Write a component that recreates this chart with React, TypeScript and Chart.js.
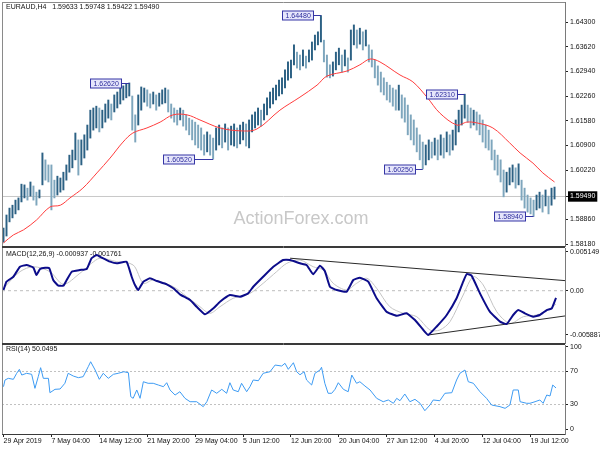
import { useEffect, useRef } from "react";
import { Chart, registerables } from "chart.js";

Chart.register(...registerables);

const FONT = "'Liberation Sans', Arial, sans-serif";

// ---------------- texts ----------------
const symbolTitle = "EURAUD,H4   1.59633 1.59748 1.59422 1.59490";
const macdTitle = "MACD(12,26,9) -0.000937 -0.001761";
const rsiTitle = "RSI(14) 50.0495";
const watermarkText = "ActionForex.com";

// ---------------- price bars (high / low) ----------------
const barHigh = [
  1.5862, 1.5898, 1.5917, 1.5925, 1.5939, 1.5945, 1.5983, 1.5981, 1.5972, 1.5989,
  1.5978, 1.5961, 1.5967, 1.6069, 1.6050, 1.6036, 1.6036, 1.5994, 1.6005, 1.6000,
  1.6016, 1.6036, 1.6063, 1.6077, 1.6124, 1.6105, 1.6105, 1.6119, 1.6146, 1.6187,
  1.6193, 1.6198, 1.6193, 1.6187, 1.6204, 1.6215, 1.6204, 1.6229, 1.6237, 1.6248,
  1.6254, 1.6259, 1.6262, 1.6226, 1.6174, 1.6229, 1.6251, 1.6248, 1.6243, 1.6232,
  1.6237, 1.6229, 1.6234, 1.6243, 1.6248, 1.6243, 1.6204, 1.6193, 1.6187, 1.6193,
  1.6187, 1.6174, 1.6165, 1.6160, 1.6154, 1.6146, 1.6138, 1.6119, 1.6127, 1.6119,
  1.6110, 1.6138, 1.6146, 1.6138, 1.6149, 1.6138, 1.6143, 1.6149, 1.6138, 1.6146,
  1.6154, 1.6149, 1.6160, 1.6174, 1.6182, 1.6193, 1.6187, 1.6204, 1.6221, 1.6237,
  1.6248, 1.6256, 1.6270, 1.6276, 1.6298, 1.6320, 1.6325, 1.6367, 1.6347, 1.6339,
  1.6353, 1.6336, 1.6353, 1.6375, 1.6394, 1.6403, 1.6448, 1.6380, 1.6339, 1.6312,
  1.6320, 1.6347, 1.6358, 1.6339, 1.6353, 1.6331, 1.6408, 1.6422, 1.6408, 1.6413,
  1.6403, 1.6408, 1.6367, 1.6353, 1.6325, 1.6309, 1.6292, 1.6276, 1.6264, 1.6256,
  1.6248, 1.6243, 1.6256, 1.6229, 1.6221, 1.6201, 1.6174, 1.6160, 1.6138, 1.6119,
  1.6099, 1.6091, 1.6105, 1.6099, 1.6110, 1.6105, 1.6119, 1.6110, 1.6127, 1.6119,
  1.6132, 1.6160, 1.6187, 1.6201, 1.6231, 1.6201, 1.6193, 1.6187, 1.6182, 1.6174,
  1.6160, 1.6146, 1.6132, 1.6105, 1.6077, 1.6063, 1.6050, 1.6022, 1.6016, 1.6028,
  1.6036, 1.6028, 1.6039, 1.5994, 1.5972, 1.5953, 1.5945, 1.5939, 1.5953, 1.5961,
  1.5953, 1.5967, 1.5950, 1.5972, 1.5975,
];
const barLow = [
  1.5823, 1.5840, 1.5879, 1.5890, 1.5901, 1.5912, 1.5934, 1.5945, 1.5939, 1.5950,
  1.5939, 1.5925, 1.5945, 1.5981, 1.5994, 1.5989, 1.5912, 1.5945, 1.5953, 1.5961,
  1.5967, 1.5994, 1.6016, 1.6028, 1.6050, 1.6008, 1.6036, 1.6055, 1.6077, 1.6110,
  1.6132, 1.6138, 1.6127, 1.6138, 1.6154, 1.6165, 1.6160, 1.6182, 1.6193, 1.6204,
  1.6215, 1.6221, 1.6226, 1.6132, 1.6099, 1.6146, 1.6187, 1.6209, 1.6198, 1.6193,
  1.6204, 1.6187, 1.6198, 1.6204, 1.6207, 1.6182, 1.6165, 1.6154, 1.6146, 1.6160,
  1.6143, 1.6132, 1.6119, 1.6105, 1.6091, 1.6083, 1.6077, 1.6063, 1.6072, 1.6063,
  1.6052, 1.6077, 1.6091, 1.6083, 1.6099, 1.6077, 1.6091, 1.6088, 1.6083, 1.6094,
  1.6105, 1.6088, 1.6083, 1.6127, 1.6138, 1.6146, 1.6143, 1.6160, 1.6174, 1.6193,
  1.6204, 1.6215, 1.6226, 1.6232, 1.6248, 1.6270, 1.6276, 1.6312, 1.6303, 1.6298,
  1.6309, 1.6303, 1.6320, 1.6325, 1.6353, 1.6367, 1.6375, 1.6320, 1.6278, 1.6276,
  1.6281, 1.6298, 1.6312, 1.6292, 1.6309, 1.6292, 1.6325, 1.6367, 1.6358, 1.6369,
  1.6353, 1.6364, 1.6320, 1.6306, 1.6276, 1.6256, 1.6237, 1.6229, 1.6215, 1.6209,
  1.6198, 1.6187, 1.6187, 1.6165, 1.6154, 1.6119, 1.6105, 1.6091, 1.6072, 1.6050,
  1.6025, 1.6036, 1.6050, 1.6055, 1.6063, 1.6050, 1.6063, 1.6055, 1.6072, 1.6063,
  1.6077, 1.6091, 1.6127, 1.6146, 1.6165, 1.6154, 1.6138, 1.6146, 1.6132, 1.6119,
  1.6099, 1.6083, 1.6077, 1.6050, 1.6022, 1.6008, 1.5989, 1.5948, 1.5961, 1.5981,
  1.5989, 1.5972, 1.5981, 1.5939, 1.5917, 1.5906, 1.5901, 1.5894, 1.5912, 1.5917,
  1.5906, 1.5923, 1.5901, 1.5925, 1.5942,
];
const lastClose = 1.5949;

// ---------------- moving average (red) ----------------
const maIdx = [0, 3.3, 6.7, 11, 15.5, 19, 22.2, 26.5, 31.2, 35.6, 39.9, 43.2, 47.9, 52.3, 56.6, 61.3, 65.6, 72.3, 79, 84.6, 92.3, 99, 104.7, 108, 114.7, 119, 122.4, 125.7, 132.4, 136.7, 141.4, 145.7, 151.4, 154.7, 158, 163.4, 169, 172.5, 176.8, 180.1, 184];
const maVal = [1.5821, 1.5843, 1.5857, 1.5884, 1.5920, 1.5925, 1.5945, 1.5972, 1.6014, 1.6055, 1.6099, 1.6124, 1.6138, 1.6154, 1.6174, 1.6174, 1.6160, 1.6138, 1.6130, 1.6135, 1.6187, 1.6223, 1.6256, 1.6281, 1.6295, 1.6312, 1.6328, 1.6320, 1.6284, 1.6265, 1.6223, 1.6179, 1.6146, 1.6154, 1.6152, 1.6138, 1.6097, 1.6069, 1.6041, 1.6014, 1.5989];

// ---------------- price labels ----------------
const annIdx = [42, 70, 106, 140, 154, 177];
const annPrice = [1.6262, 1.6052, 1.6448, 1.6025, 1.6231, 1.5894];

// ---------------- MACD ----------------
const macdIdx = [0, 1, 3.3, 5.5, 7.7, 10, 11, 12.2, 13.9, 15.3, 16.6, 18.3, 20, 21.1, 22.8, 25.5, 27.8, 29.4, 31.1, 32.2, 35.6, 37.8, 41.1, 42.8, 43.9, 45, 46.7, 48.9, 51.2, 54.5, 56.7, 58.9, 62.3, 64.5, 67.3, 70.1, 72.3, 75.6, 79, 81.7, 83.4, 86.7, 90.1, 93.4, 95.7, 99, 101.2, 103.4, 105.7, 107.3, 109, 111.3, 114.6, 116.8, 119, 121.8, 124.6, 127.9, 131.3, 134.6, 137.4, 140.2, 141.8, 144.6, 148, 151.3, 153.5, 154.7, 156.3, 159.1, 162.4, 165.8, 168, 170.2, 171.9, 174.1, 176.9, 179.1, 181.4, 183.1, 184.5];
const macdVal = [0.00009, 0.00120, 0.00186, 0.00319, 0.00342, 0.00306, 0.00209, 0.00289, 0.00306, 0.00298, 0.00142, 0.00067, 0.00067, 0.00142, 0.00253, 0.00275, 0.00289, 0.00431, 0.00475, 0.00452, 0.00386, 0.00364, 0.00386, 0.00186, 0.00076, 0.00009, 0.00120, 0.00165, 0.00129, 0.00085, 0.00032, -0.00048, -0.00124, -0.00213, -0.00314, -0.00234, -0.00146, -0.00057, -0.00080, -0.00035, 0.00053, 0.00186, 0.00319, 0.00408, 0.00408, 0.00364, 0.00342, 0.00218, 0.00333, 0.00262, 0.00053, 0.00009, -0.00013, 0.00142, 0.00173, 0.00120, -0.00101, -0.00279, -0.00333, -0.00301, -0.00390, -0.00523, -0.00589, -0.00479, -0.00323, -0.00101, 0.00120, 0.00222, 0.00200, -0.00035, -0.00279, -0.00412, -0.00443, -0.00323, -0.00257, -0.00301, -0.00346, -0.00323, -0.00257, -0.00234, -0.00094];
const sigIdx = [0, 5.5, 10, 15.5, 20, 25.5, 29.4, 32.2, 37.8, 43.3, 46.7, 50, 56.7, 61.2, 65.6, 68.9, 72.3, 76.7, 82.3, 86.7, 91.2, 94.6, 99, 103.4, 106.8, 110.1, 114.6, 117.9, 121.3, 124.6, 129, 133.5, 138, 142.4, 145.7, 149.1, 153.5, 156.9, 160.2, 164.7, 169.1, 173.6, 178, 182, 184.5];
const sigVal = [0.00032, 0.00253, 0.00319, 0.00253, 0.00085, 0.00231, 0.00364, 0.00431, 0.00386, 0.00342, 0.00098, 0.00142, 0.00053, -0.00080, -0.00213, -0.00301, -0.00213, -0.00101, -0.00035, 0.00098, 0.00253, 0.00364, 0.00408, 0.00319, 0.00275, 0.00098, 0.00009, 0.00098, 0.00165, 0.00032, -0.00213, -0.00301, -0.00346, -0.00523, -0.00523, -0.00412, -0.00057, 0.00186, 0.00076, -0.00279, -0.00434, -0.00346, -0.00323, -0.00250, -0.00176];
const trendUpIdx = [95.7, 187.5];
const trendUpVal = [0.00432, 0.00134];
const trendLoIdx = [141.8, 187.5];
const trendLoVal = [-0.00589, -0.00336];

// ---------------- RSI ----------------
const rsiIdx = [0, 0.5, 1.6, 3.3, 4.4, 5.3, 6.1, 7.7, 9.4, 10.5, 11.6, 12.4, 13.3, 15, 15.5, 17.2, 18.9, 20.5, 21.6, 23.3, 25, 26.6, 28.3, 29.1, 30.6, 32, 33.3, 35, 36.7, 38.3, 40.2, 41.7, 42.5, 43.3, 44.5, 45.6, 46.7, 48.3, 50, 51.7, 53.4, 54.5, 55.6, 57.3, 58.9, 60.6, 62.3, 64.5, 66.7, 67.9, 69.5, 71.2, 72.9, 74.5, 75.6, 76.7, 78.4, 79.5, 81.2, 82.3, 83.4, 85.1, 86.7, 89, 90.7, 92.9, 94, 95.1, 96.8, 97.9, 99, 100.4, 101.2, 102.9, 104, 105.7, 106.2, 107.3, 108.4, 109.6, 110.7, 111.8, 113.5, 115.1, 116.3, 117.9, 119, 120.7, 122.4, 124.6, 126.8, 128.5, 130.2, 131.3, 132.4, 134, 135.7, 137.4, 139.1, 140.7, 142.4, 143.5, 145.7, 147.4, 149.7, 151.3, 152.4, 154.1, 155.2, 156.9, 159.1, 161.3, 163, 165.8, 167.5, 169.1, 170.2, 171.9, 172.5, 174.7, 175.8, 177.5, 179.1, 180.2, 181.4, 182.5, 183.4, 184.5];
const rsiVal = [51.6, 59.7, 61.7, 60.5, 67.8, 72.6, 65.7, 67.8, 66.6, 49.6, 63.7, 74.6, 61.7, 61.7, 44.3, 48.4, 48.8, 55.7, 67.8, 64.5, 62.5, 63.7, 75.8, 81.8, 71.8, 60.5, 67.8, 61.7, 66.6, 67.8, 69.7, 68.5, 39.5, 37.5, 47.6, 37.5, 57.6, 55.7, 55.7, 53.6, 51.6, 56.4, 47.6, 41.5, 45.5, 37.5, 33.4, 33.4, 27.4, 33.4, 47.6, 43.6, 48.4, 43.6, 56.4, 47.6, 45.5, 55.7, 45.5, 51.6, 59.7, 58.8, 67.8, 69.7, 77.8, 76.6, 79.9, 72.6, 80.6, 69.7, 66.0, 69.7, 59.7, 53.6, 67.8, 71.8, 75.1, 55.7, 43.6, 43.6, 48.4, 56.4, 48.4, 45.5, 65.7, 55.7, 57.6, 52.4, 47.6, 37.5, 33.4, 35.5, 31.5, 37.5, 34.6, 42.7, 33.4, 36.3, 31.5, 22.5, 29.4, 35.5, 34.6, 43.6, 44.3, 59.7, 67.8, 71.8, 57.6, 55.7, 45.5, 37.5, 29.4, 27.4, 25.4, 29.4, 47.6, 47.6, 33.4, 31.5, 31.5, 33.4, 35.5, 31.5, 41.5, 40.3, 53.6, 50.05];
const rsiLevels = [70, 30];

// ---------------- axes ----------------
const timeLabels = ["29 Apr 2019", "7 May 04:00", "14 May 12:00", "21 May 20:00", "29 May 04:00", "5 Jun 12:00", "12 Jun 20:00", "20 Jun 04:00", "27 Jun 12:00", "4 Jul 20:00", "12 Jul 04:00", "19 Jul 12:00"];
const timeLabelIdx = [0, 16, 32, 48, 64, 80, 96, 112, 128, 144, 160, 176];
const priceTicks = [1.643, 1.6362, 1.6294, 1.6226, 1.6158, 1.609, 1.6022, 1.5949, 1.5886, 1.5818];
const macdTicks = [0.005149, 0, -0.005887];
const rsiTicks = [100, 70, 30, 0];

// ---------------- layout constants ----------------
const X_MIN = -0.5;
const X_MAX = 187.5;
const PRICE_MIN = 1.58125;
const PRICE_MAX = 1.64852;
const MACD_MIN = -0.006956;
const MACD_MAX = 0.005679;
const RSI_MIN = -5.69;
const RSI_MAX = 102.06;
const AXIS_W = 35;
const annLead = [8, 19, 8, 8, 8, 9];

const pts = (xs: number[], ys: number[]) => xs.map((x, k) => ({ x, y: ys[k] }));

const barColors = barHigh.map((h, i) => {
  const m = (h + barLow[i]) / 2;
  const pm = i > 0 ? (barHigh[i - 1] + barLow[i - 1]) / 2 : m;
  return m >= pm ? "#2c6184" : "#7ea6bd";
});

function yAxis(min: number, max: number, ticks: number[], fmt: (v: number) => string, extra: any = {}) {
  return {
    type: "linear",
    position: "right",
    min,
    max,
    afterBuildTicks: (s: any) => {
      s.ticks = ticks.map((v) => ({ value: v }));
    },
    afterFit: (s: any) => {
      s.width = AXIS_W;
      s.paddingTop = 0;
      s.paddingBottom = 0;
    },
    grid: { drawOnChartArea: false, drawTicks: true, tickLength: 3, tickColor: "#222" },
    border: { display: true, color: "#7a7a7a", width: 1 },
    ticks: {
      autoSkip: false,
      padding: 2,
      font: { family: FONT, size: 7 },
      color: "#111",
      callback: (v: any) => fmt(Number(v)),
      ...extra,
    },
  };
}

const hiddenX = { type: "linear", min: X_MIN, max: X_MAX, display: false, offset: false };

function drawFrame(chart: any, topDark: boolean, bottomDark: boolean) {
  const { ctx, chartArea } = chart;
  const { left, top, right, bottom } = chartArea;
  ctx.save();
  ctx.lineWidth = 1;
  ctx.strokeStyle = "#8a8a8a";
  ctx.beginPath();
  ctx.moveTo(left + 0.5, top);
  ctx.lineTo(left + 0.5, bottom);
  ctx.stroke();
  if (!topDark) {
    ctx.beginPath();
    ctx.moveTo(left, top + 0.5);
    ctx.lineTo(right, top + 0.5);
    ctx.stroke();
  } else {
    ctx.strokeStyle = "#3a3a3a";
    ctx.beginPath();
    ctx.moveTo(left, top - 0.5);
    ctx.lineTo(right, top - 0.5);
    ctx.stroke();
  }
  if (bottomDark) {
    ctx.strokeStyle = "#3a3a3a";
    ctx.beginPath();
    ctx.moveTo(left, bottom + 0.5);
    ctx.lineTo(right, bottom + 0.5);
    ctx.stroke();
  }
  ctx.restore();
}

function drawTitle(chart: any, text: string, x: number, y: number) {
  const ctx = chart.ctx;
  ctx.save();
  ctx.font = `7px ${FONT}`;
  ctx.fillStyle = "#111";
  ctx.textAlign = "left";
  ctx.textBaseline = "middle";
  ctx.fillText(text, x, y);
  ctx.restore();
}

const mainDecor = {
  id: "mainDecor",
  beforeDatasetsDraw(chart: any) {
    const ctx = chart.ctx;
    ctx.save();
    ctx.font = `18px ${FONT}`;
    ctx.fillStyle = "#c8c8c8";
    ctx.textAlign = "center";
    ctx.textBaseline = "middle";
    ctx.fillText(watermarkText, 301, 219);
    ctx.restore();
    drawTitle(chart, symbolTitle, 6, 7.5);
  },
  afterDatasetsDraw(chart: any) {
    const { ctx, scales } = chart;
    const xs = scales.x;
    const ys = scales.y;
    ctx.save();
    ctx.font = `7px ${FONT}`;
    ctx.textBaseline = "middle";
    ctx.textAlign = "left";
    annIdx.forEach((idx, k) => {
      const label = annPrice[k].toFixed(5);
      const xb = xs.getPixelForValue(idx);
      const yp = Math.round(ys.getPixelForValue(annPrice[k])) + 0.5;
      const tw = ctx.measureText(label).width;
      const w = Math.round(tw + 6);
      const right = Math.round(xb - annLead[k]) + 0.5;
      ctx.fillStyle = "#e6e6fb";
      ctx.fillRect(right - w, yp - 4.5, w, 9);
      ctx.strokeStyle = "#3535a5";
      ctx.lineWidth = 1;
      ctx.strokeRect(right - w, yp - 4.5, w, 9);
      ctx.beginPath();
      ctx.moveTo(right, yp);
      ctx.lineTo(xb, yp);
      ctx.stroke();
      ctx.fillStyle = "#2b2b9c";
      ctx.fillText(label, right - w + 3, yp + 0.5);
    });
    ctx.restore();
  },
  afterDraw(chart: any) {
    drawFrame(chart, false, true);
  },
};

const macdDecor = {
  id: "macdDecor",
  beforeDatasetsDraw(chart: any) {
    drawTitle(chart, macdTitle, 6, 7);
  },
  afterDraw(chart: any) {
    drawFrame(chart, true, true);
  },
};

const rsiDecor = {
  id: "rsiDecor",
  beforeDatasetsDraw(chart: any) {
    drawTitle(chart, rsiTitle, 6, 5.5);
  },
  afterDraw(chart: any) {
    drawFrame(chart, true, false);
  },
};

const baseOptions = {
  responsive: false,
  animation: false,
  devicePixelRatio: 1,
  events: [],
  plugins: { legend: { display: false }, tooltip: { enabled: false } },
};

export default function App() {
  const mainRef = useRef<HTMLCanvasElement>(null);
  const macdRef = useRef<HTMLCanvasElement>(null);
  const rsiRef = useRef<HTMLCanvasElement>(null);

  useEffect(() => {
    const main = new Chart(mainRef.current as HTMLCanvasElement, {
      type: "bar",
      data: {
        datasets: [
          {
            type: "line",
            data: [{ x: X_MIN, y: lastClose }, { x: X_MAX, y: lastClose }],
            borderColor: "#c8c8c8",
            borderWidth: 1,
            pointRadius: 0,
            order: 3,
          },
          {
            type: "bar",
            data: barHigh.map((h, i) => ({ x: i, y: [barLow[i], h] })),
            backgroundColor: barColors,
            borderWidth: 0,
            barThickness: 1.3,
            order: 2,
          },
          {
            type: "line",
            data: pts(maIdx, maVal),
            borderColor: "#ff3c3c",
            borderWidth: 1,
            pointRadius: 0,
            tension: 0.35,
            order: 1,
          },
        ],
      } as any,
      options: {
        ...baseOptions,
        layout: { padding: { left: 2, top: 2, right: 0, bottom: 1 } },
        scales: {
          x: hiddenX,
          y: yAxis(PRICE_MIN, PRICE_MAX, priceTicks, (v) => v.toFixed(5), {
            color: (c: any) => (c.tick && c.tick.value === lastClose ? "#fff" : "#111"),
            showLabelBackdrop: (c: any) => !!(c.tick && c.tick.value === lastClose),
            backdropColor: "#000",
            backdropPadding: { x: 2, y: 1 },
          }),
        },
      } as any,
      plugins: [mainDecor],
    });

    const macd = new Chart(macdRef.current as HTMLCanvasElement, {
      type: "line",
      data: {
        datasets: [
          {
            data: [{ x: X_MIN, y: 0 }, { x: X_MAX, y: 0 }],
            borderColor: "#bdbdbd",
            borderWidth: 1,
            borderDash: [3, 3],
            pointRadius: 0,
            order: 5,
          },
          {
            data: pts(sigIdx, sigVal),
            borderColor: "#c4c4c4",
            borderWidth: 1,
            pointRadius: 0,
            tension: 0.3,
            order: 3,
          },
          {
            data: pts(trendUpIdx, trendUpVal),
            borderColor: "#2a2a2a",
            borderWidth: 1,
            pointRadius: 0,
            order: 2,
          },
          {
            data: pts(trendLoIdx, trendLoVal),
            borderColor: "#2a2a2a",
            borderWidth: 1,
            pointRadius: 0,
            order: 2,
          },
          {
            data: pts(macdIdx, macdVal),
            borderColor: "#0c0c8a",
            borderWidth: 2,
            pointRadius: 0,
            tension: 0.12,
            order: 1,
          },
        ],
      } as any,
      options: {
        ...baseOptions,
        layout: { padding: { left: 2, top: 1, right: 0, bottom: 1 } },
        scales: {
          x: hiddenX,
          y: yAxis(MACD_MIN, MACD_MAX, macdTicks, (v) => (v === 0 ? "0.00" : v.toFixed(6))),
        },
      } as any,
      plugins: [macdDecor],
    });

    const rsi = new Chart(rsiRef.current as HTMLCanvasElement, {
      type: "line",
      data: {
        datasets: [
          ...rsiLevels.map((lv) => ({
            data: [{ x: X_MIN, y: lv }, { x: X_MAX, y: lv }],
            borderColor: "#c0c0c0",
            borderWidth: 1,
            borderDash: [2, 2],
            pointRadius: 0,
            order: 5,
          })),
          {
            data: pts(rsiIdx, rsiVal),
            borderColor: "#3d9bf3",
            borderWidth: 1,
            pointRadius: 0,
            tension: 0,
            order: 1,
          },
        ],
      } as any,
      options: {
        ...baseOptions,
        layout: { padding: { left: 2, top: 1, right: 0, bottom: 0 } },
        scales: {
          x: {
            type: "linear",
            position: "bottom",
            min: X_MIN,
            max: X_MAX,
            offset: false,
            afterBuildTicks: (s: any) => {
              s.ticks = timeLabelIdx.map((v) => ({ value: v }));
            },
            afterFit: (s: any) => {
              s.height = 16;
              s.paddingLeft = 0;
              s.paddingRight = 0;
            },
            grid: { drawOnChartArea: false, drawTicks: true, tickLength: 3, tickColor: "#222" },
            border: { display: true, color: "#3a3a3a", width: 1 },
            ticks: {
              autoSkip: false,
              maxRotation: 0,
              minRotation: 0,
              align: "start",
              padding: 0,
              font: { family: FONT, size: 7 },
              color: "#111",
              callback: (_v: any, i: number) => timeLabels[i],
            },
          },
          y: yAxis(RSI_MIN, RSI_MAX, rsiTicks, (v) => String(v)),
        },
      } as any,
      plugins: [rsiDecor],
    });

    return () => {
      main.destroy();
      macd.destroy();
      rsi.destroy();
    };
  }, []);

  const cv = (top: number, h: number) => ({
    position: "absolute" as const,
    left: 0,
    top,
    width: 600,
    height: h,
    display: "block",
  });

  return (
    <div style={{ position: "absolute", left: 0, top: 0, width: 600, height: 450, background: "#fff", overflow: "hidden" }}>
      <canvas ref={mainRef} width={600} height={247} style={cv(0, 247)} />
      <canvas ref={macdRef} width={600} height={97} style={cv(247, 97)} />
      <canvas ref={rsiRef} width={600} height={106} style={cv(344, 106)} />
    </div>
  );
}
